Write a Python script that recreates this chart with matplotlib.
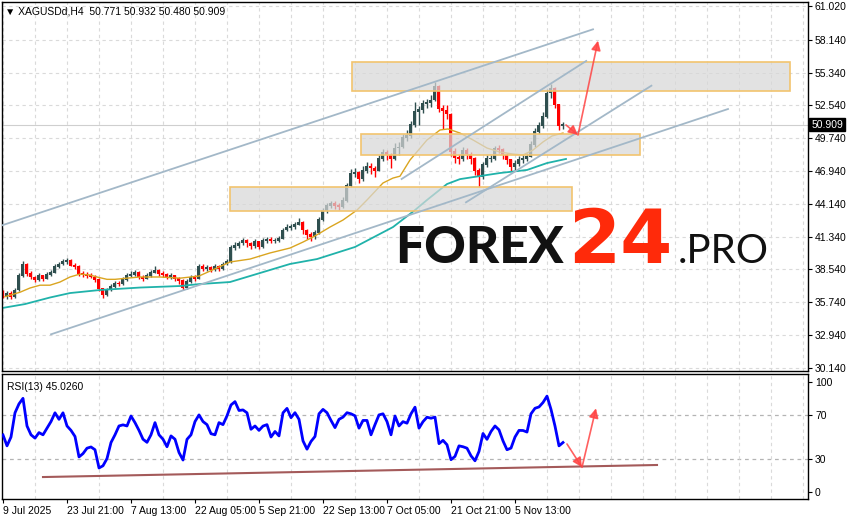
import matplotlib
matplotlib.use('Agg')
import matplotlib.pyplot as plt
import matplotlib.transforms as mtransforms
from matplotlib.patches import Rectangle

# --- data (one bar = 4 px of the original H4 chart) ---
closes = [36.3, 36.5, 36.2, 36.8, 38.0, 39.0, 38.2, 37.9, 37.7, 38.0,
          37.8, 38.1, 38.3, 38.8, 39.0, 39.2, 39.3, 38.9, 38.8, 38.2,
          38.1, 38.0, 37.9, 37.7, 36.9, 36.4, 36.8, 37.1, 37.4, 37.3,
          37.7, 38.0, 38.1, 38.3, 37.9, 37.8, 38.0, 38.3, 38.5, 38.2,
          38.1, 37.9, 38.0, 37.8, 37.6, 37.0, 37.5, 37.9, 37.8, 38.8,
          38.6, 38.7, 38.5, 38.8, 38.6, 39.0, 39.2, 40.4, 40.6, 40.8,
          41.0, 40.8, 40.6, 40.9, 40.5, 41.0, 41.1, 41.0, 41.0, 41.2,
          41.9, 42.1, 42.2, 42.4, 42.6, 41.9, 41.5, 41.3, 41.7, 42.8,
          43.6, 44.0, 44.2, 44.0, 43.9, 44.4, 45.7, 46.7, 46.8, 46.3,
          47.0, 47.3, 47.2, 47.0, 48.0, 48.5, 48.3, 48.0, 48.9, 49.0,
          49.8, 50.0, 50.9, 52.0, 52.2, 52.7, 52.8, 53.0, 54.2, 52.3,
          52.1, 51.8, 48.6, 48.1, 48.0, 48.7, 48.4, 48.0, 47.0, 46.5,
          47.5, 48.0, 48.0, 48.9, 48.8, 48.3, 47.9, 47.3, 47.6, 47.9,
          48.0, 48.2, 49.2, 50.3, 50.8, 51.6, 53.6, 54.0, 52.6, 50.8,
          50.909]
first_open = 36.6
highs = [36.8, 36.7, 36.7, 37.0, 38.2, 39.3, 39.1, 38.4, 38.0, 38.2,
         38.1, 38.3, 38.5, 39.0, 39.2, 39.4, 39.5, 39.4, 39.1, 38.9,
         38.4, 38.3, 38.2, 38.1, 37.8, 37.0, 37.0, 37.3, 37.6, 37.6,
         37.9, 38.2, 38.4, 38.5, 38.4, 38.1, 38.2, 38.5, 38.8, 38.6,
         38.4, 38.2, 38.2, 38.1, 37.9, 37.7, 37.7, 38.1, 38.1, 39.0,
         39.0, 38.9, 38.8, 39.0, 38.9, 39.2, 39.4, 40.6, 40.9, 41.0,
         41.2, 41.1, 40.9, 41.1, 41.0, 41.2, 41.3, 41.3, 41.2, 41.4,
         42.1, 42.4, 42.4, 42.6, 42.9, 42.7, 42.0, 41.7, 41.9, 43.0,
         43.8, 44.2, 44.4, 44.4, 44.2, 44.7, 45.9, 47.1, 47.2, 46.9,
         47.4, 47.7, 47.6, 47.4, 48.3, 48.8, 48.7, 48.5, 49.3, 49.4,
         50.1, 50.4, 51.2, 52.8, 52.5, 53.0, 53.1, 53.4, 54.5, 54.3,
         52.6, 52.6, 51.9, 48.9, 48.4, 49.0, 48.9, 48.6, 48.1, 47.2,
         47.7, 48.3, 48.3, 49.1, 49.2, 48.9, 48.5, 48.0, 47.9, 48.2,
         48.3, 48.5, 49.5, 50.6, 51.1, 52.0, 53.9, 54.4, 54.1, 52.7,
         51.1]
lows = [36.1, 36.0, 36.0, 36.1, 36.7, 37.9, 38.0, 37.7, 37.5, 37.6,
        37.6, 37.7, 38.0, 38.2, 38.7, 38.9, 39.0, 38.8, 38.6, 38.0,
        37.9, 37.8, 37.8, 37.5, 36.7, 36.1, 36.3, 36.7, 37.0, 37.1,
        37.2, 37.6, 37.9, 38.0, 37.7, 37.6, 37.7, 37.9, 38.2, 38.0,
        37.9, 37.7, 37.7, 37.6, 37.3, 36.8, 36.9, 37.4, 37.6, 37.7,
        38.4, 38.4, 38.3, 38.4, 38.4, 38.5, 38.9, 39.1, 40.2, 40.4,
        40.6, 40.5, 40.3, 40.4, 40.3, 40.4, 40.8, 40.8, 40.8, 40.9,
        41.1, 41.8, 41.9, 42.0, 42.3, 41.6, 41.1, 41.0, 41.1, 41.6,
        42.7, 43.4, 43.8, 43.7, 43.6, 43.8, 44.3, 45.6, 46.4, 45.9,
        46.1, 46.8, 46.7, 46.4, 46.9, 47.8, 47.9, 47.2, 47.9, 48.3,
        48.9, 49.5, 49.8, 50.7, 50.9, 51.9, 52.3, 52.4, 52.9, 52.0,
        50.5, 51.4, 48.2, 47.6, 47.5, 47.8, 48.0, 47.5, 46.6, 45.6,
        46.3, 47.3, 47.7, 47.9, 48.5, 48.0, 47.5, 46.9, 47.0, 47.4,
        47.6, 47.8, 48.1, 49.0, 50.1, 50.6, 51.5, 53.2, 52.3, 50.4,
        50.5]

rsi = [51.9, 42, 50, 71.9, 80, 85, 60, 52, 49, 54,
       52, 58, 64, 71.9, 66, 71.9, 60, 56, 50.5, 32,
       35, 39.9, 41, 38.5, 22, 24, 30.5, 45, 52, 60,
       61, 60, 69, 63, 56, 48, 45.2, 52, 63, 52,
       48, 41.2, 51, 48, 36, 29.2, 47.9, 52, 64, 70,
       64, 61.2, 53, 52, 63, 61.2, 69.2, 79, 82, 74,
       74.5, 71.9, 57, 60, 56, 59.9, 61.2, 50, 55, 51,
       71.9, 75.9, 67.5, 72, 66, 46.5, 39, 46, 50.5, 71,
       75, 72, 65, 58.5, 66, 68, 72, 71, 69.2, 58,
       65, 65, 52, 61.2, 70, 71, 64, 52, 69, 60,
       63.9, 62.5, 71, 77, 58, 63.9, 67.9, 67, 68, 44,
       47, 43, 29.5, 32.5, 42, 41.2, 39.9, 33, 28.5, 37,
       53.2, 47.9, 55, 60, 56.5, 46.5, 38.5, 40, 50, 56,
       55.9, 54.5, 71, 76, 77.2, 81.2, 87, 75, 59.9, 42,
       45.026]

# moving averages, sampled along the bar axis
ma_fast_x = [0.5, 4.25, 6.75, 9.25, 11.75, 14.25, 16.75, 19.25, 21.75, 23.5,
             26, 28, 31, 34.25, 39.25, 44.25, 49, 54, 56.75, 61.75,
             66.75, 71.75, 75, 77.5, 79.25, 81.75, 85, 88.5, 91, 95,
             97.5, 99.25, 101.75, 106, 109.25, 111.25, 114.25, 117.5, 121, 124.25,
             127.5, 130, 132.5, 135, 137.25, 140]
ma_fast = [36.22, 36.6, 36.96, 37.2, 37.2, 37.47, 37.9, 38.15, 38.07, 37.9,
           37.7, 37.7, 37.8, 37.9, 37.9, 37.8, 37.98, 38.75, 39.18, 39.43,
           39.95, 40.37, 40.88, 41.31, 41.65, 42.16, 42.76, 43.61, 44.47, 45.92,
           46.34, 46.5, 47.88, 49.59, 50.44, 50.53, 50.18, 49.59, 48.9, 48.56,
           48.39, 48.31, 48.73, 49.42, 49.93, 50.18]
ma_slow_x = [-0.25, 5.5, 11.75, 16.75, 24.25, 34.25, 44.25, 49.25, 56.75, 64.25,
             71.75, 78.5, 88, 97.5, 103, 106, 111, 114.25, 117.5, 124.25,
             131, 136, 140.75]
ma_slow = [35.25, 35.59, 36.15, 36.53, 36.79, 37.0, 37.13, 37.3, 37.47, 38.24,
           39.01, 39.43, 40.46, 42.16, 43.61, 44.47, 45.83, 46.25, 46.42, 46.77,
           47.03, 47.62, 47.97]

time_ticks = [0, 16, 32, 48, 64, 80, 96, 112, 128]
time_labels = ['9 Jul 2025', '23 Jul 21:00', '7 Aug 13:00', '22 Aug 05:00',
               '5 Sep 21:00', '22 Sep 13:00', '7 Oct 05:00', '21 Oct 21:00',
               '5 Nov 13:00']
price_ticks = [61.02, 58.14, 55.34, 52.54, 49.74, 46.94, 44.14, 41.34,
               38.54, 35.74, 32.94, 30.14]
rsi_ticks = [100, 70, 30, 0]
last_price = 50.909

# zones (bar from, bar to, price low, price high)
zones = [(87.25, 196.75, 53.77, 56.24),
         (89.4, 159.35, 48.28, 50.07),
         (56.75, 142.15, 43.50, 45.55)]
# channel lines ((bar, price), (bar, price))
channels = [((-0.75, 42.25), (147.5, 59.03)),
            ((12, 33.01), (181.25, 52.23)),
            ((99.65, 46.26), (145.8, 56.33)),
            ((115.75, 44.27), (162.1, 54.22))]

W, H = 854, 520
ui_font = 'Liberation Sans'
fig = plt.figure(figsize=(W / 100, H / 100), dpi=100)
fig.patch.set_facecolor('white')

ax = fig.add_axes([2 / W, (H - 371) / H, 806 / W, 369 / H])
ax_rsi = fig.add_axes([2 / W, (H - 499) / H, 806 / W, 125 / H])

xmin, xmax = -0.25, 201.25
grid_kw = dict(color='#DADADA', linestyle=(0, (3, 3)), linewidth=0.8, zorder=0)

# --- price panel ---
n = len(closes)
idx = list(range(n))
opens = [first_open] + closes[:-1]
cols = ['#2F4F4F' if c >= o else '#FF0000' for o, c in zip(opens, closes)]
ax.vlines(idx, lows, highs, colors=cols, linewidth=1, zorder=2)
ax.bar(idx, [abs(c - o) + 0.06 for o, c in zip(opens, closes)],
       bottom=[min(o, c) - 0.03 for o, c in zip(opens, closes)],
       width=0.75, color=cols, zorder=2)

ax.plot(ma_fast_x, ma_fast, color='#DAA520', linewidth=1, zorder=2.5)
ax.plot(ma_slow_x, ma_slow, color='#20B2AA', linewidth=1.3, zorder=2.5)

for x0, x1, p0, p1 in zones:
    ax.add_patch(Rectangle((x0, p0), x1 - x0, p1 - p0, facecolor='#D8D8D8',
                           alpha=0.72, edgecolor='none', zorder=3))
    ax.add_patch(Rectangle((x0, p0), x1 - x0, p1 - p0, facecolor='none',
                           edgecolor='#F2C46E', linewidth=1.2, zorder=3.1))

for (x0, p0), (x1, p1) in channels:
    ax.plot([x0, x1], [p0, p1], color='#A3B8C8', linewidth=1.3, zorder=4)

ax.axhline(last_price, color='#CFCFCF', linewidth=0.8, zorder=1)

arrow_kw = dict(arrowstyle='-|>', color='#FF4444', lw=1.2, alpha=0.85,
                mutation_scale=14, shrinkA=0, shrinkB=0)
ax.annotate('', xy=(143.75, 50.01), xytext=(140.75, 50.87), arrowprops=arrow_kw, zorder=5)
ax.annotate('', xy=(148.75, 58.06), xytext=(143.75, 50.01), arrowprops=arrow_kw, zorder=5)

ax.set_xlim(xmin, xmax)
ax.set_ylim(29.88, 61.36)
ax.set_xticks(list(range(0, 202, 8)))
ax.tick_params(axis='x', length=0, labelbottom=False)
ax.set_yticks(price_ticks)
ax.set_yticklabels(['%.3f' % v for v in price_ticks], family=ui_font)
ax.yaxis.tick_right()
ax.tick_params(axis='y', direction='out', length=3, width=0.8, pad=2,
               labelsize=7.5, colors='black')
ax.grid(True, **grid_kw)
for s in ax.spines.values():
    s.set_linewidth(1)
    s.set_color('black')

trans = mtransforms.blended_transform_factory(ax.transAxes, ax.transData)
ax.text(1.004, last_price, '%.3f' % last_price, transform=trans, fontsize=7.5,
        family=ui_font, color='white', va='center', ha='left', zorder=10,
        bbox=dict(boxstyle='square,pad=0.18', facecolor='black', edgecolor='black'))
ax.text(0.004, 0.988, '\u25bc XAGUSDd,H4  50.771 50.932 50.480 50.909',
        transform=ax.transAxes, fontsize=7.5, va='top', ha='left',
        family=[ui_font, 'DejaVu Sans'])

# --- RSI panel ---
ax_rsi.plot(idx, rsi, color='#0000FF', linewidth=2, zorder=3)
ax_rsi.plot([10, 163.5], [13.8, 24.7], color='#9A4848', linewidth=1.5,
            alpha=0.9, zorder=2)
ax_rsi.annotate('', xy=(144.75, 22.6), xytext=(141, 43.7), arrowprops=arrow_kw, zorder=5)
ax_rsi.annotate('', xy=(148.25, 76), xytext=(144.75, 22.6), arrowprops=arrow_kw, zorder=5)

ax_rsi.set_xlim(xmin, xmax)
ax_rsi.set_ylim(-6.06, 107)
for lvl in (70, 30):
    ax_rsi.axhline(lvl, color='#B4B4B4', linestyle=(0, (3, 3)), linewidth=0.9, zorder=1)
ax_rsi.set_xticks(list(range(0, 202, 8)), minor=True)
ax_rsi.grid(True, axis='x', which='minor', **grid_kw)
ax_rsi.set_xticks(time_ticks)
ax_rsi.set_xticklabels(time_labels, ha='left', family=ui_font)
ax_rsi.tick_params(axis='x', which='major', direction='out', length=3, width=0.8,
                   pad=2, labelsize=7.5)
ax_rsi.tick_params(axis='x', which='minor', length=0)
ax_rsi.set_yticks(rsi_ticks)
ax_rsi.set_yticklabels([str(v) for v in rsi_ticks], family=ui_font)
ax_rsi.yaxis.tick_right()
ax_rsi.tick_params(axis='y', direction='out', length=3, width=0.8, pad=2, labelsize=7.5)
for s in ax_rsi.spines.values():
    s.set_linewidth(1)
    s.set_color('black')
ax_rsi.text(0.006, 0.9, 'RSI(13) 45.0260', transform=ax_rsi.transAxes,
            fontsize=7.5, family=ui_font, va='center', ha='left')

# --- watermark ---
fig.text(395 / W, 1 - 263 / H, 'FOREX', fontsize=37, family='Lato',
         weight='black', color='#111111', va='baseline', ha='left')
fig.text(568 / W, 1 - 263 / H, '24', fontsize=54, family='DejaVu Sans',
         weight='bold', color='#FF2A0A', va='baseline', ha='left')
fig.text(678 / W, 1 - 263 / H, '.PRO', fontsize=29, family='Lato',
         weight='normal', color='#111111', va='baseline', ha='left')

fig.savefig('out.png', dpi=100)
